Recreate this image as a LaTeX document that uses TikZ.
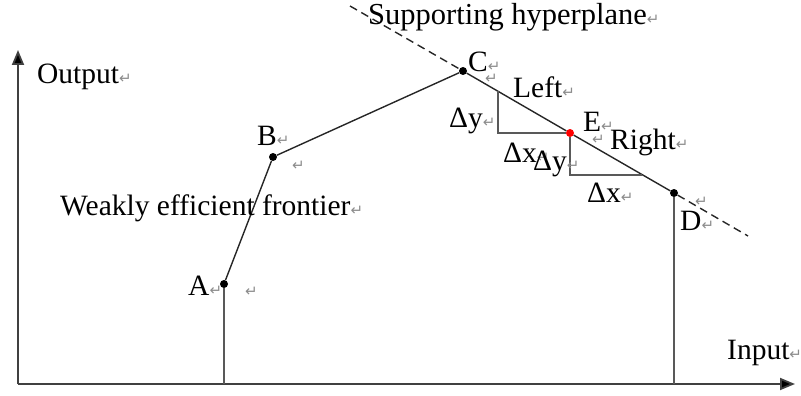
\documentclass[tikz,border=0pt]{standalone}
\usepackage{fontspec}
\setmainfont{Liberation Serif}
\newfontfamily\symfont{DejaVu Sans}
\usetikzlibrary{arrows.meta}
\newcommand\retmark{{\symfont\fontsize{15}{15}\selectfont\color{black!45}↵}}
\tikzset{dot/.style={circle, fill, inner sep=0pt, minimum size=8pt}}
\tikzset{axis/.style={line width=1.8pt, draw=black!75, -{Triangle[length=15pt, width=12pt, fill=black]}}}
\tikzset{edge/.style={line width=1.4pt, draw=black!85}}
\tikzset{drop/.style={line width=1.4pt, draw=black!65}}
\tikzset{lbl/.style={inner sep=0pt, anchor=base west, font=\fontsize{29.5}{32}\selectfont}}
\tikzset{stray/.style={inner sep=0pt, anchor=base west}}

\begin{document}
\begin{tikzpicture}[x=1pt, y=-1pt]
            \useasboundingbox (0,0) rectangle (801,396);
            % axes
            \coordinate (origin) at (18,384);
            \coordinate (xend) at (795,384);
            \coordinate (yend) at (18,50);
            \draw[axis] (origin) -- (xend);
            \draw[axis] (origin) -- (yend);
            % frontier points
            \node[dot] (A) at (224,284) {};
            \node[dot] (B) at (273,157) {};
            \node[dot] (C) at (463,71) {};
            \node[dot, fill=red] (E) at (570,133) {};
            \node[dot] (D) at (674,193) {};
            \coordinate (A0) at (224,384);
            \coordinate (D0) at (674,384);
            \coordinate (H1) at (350,6);
            \coordinate (H2) at (748,236);
            \draw[drop] (A0) -- (A);
            \draw[drop] (D0) -- (D);
            \draw[edge] (A) -- (B) -- (C) -- (E) -- (D);
            \draw[edge, dashed, dash pattern=on 8pt off 5pt] (H1) -- (C);
            \draw[edge, dashed, dash pattern=on 8pt off 5pt] (D) -- (H2);
            % step triangles
            \coordinate (L1) at (498,91);
            \coordinate (L2) at (498,133);
            \coordinate (R1) at (570,175);
            \coordinate (R2) at (642,175);
            \draw[drop] (L1) -- (L2) -- (E);
            \draw[drop] (E) -- (R1) -- (R2);
            % labels
            \node[lbl] (out) at (37,84) {Output\retmark};
            \node[lbl] (inp) at (727,359) {Input\retmark};
            \node[lbl, font=\fontsize{30.5}{33}\selectfont] (hyp) at (368,25) {Supporting hyperplane\retmark};
            \node[lbl] (weak) at (60,215) {Weakly efficient frontier\retmark};
            \node[lbl] (labA) at (188,295) {A\retmark};
            \node[lbl] (labB) at (257,145) {B\retmark};
            \node[lbl] (labC) at (468,72) {C\retmark};
            \node[lbl] (labD) at (680,230) {D\retmark};
            \node[lbl] (labE) at (583,131) {E\retmark};
            \node[lbl] (left) at (513,97) {Left\retmark};
            \node[lbl] (right) at (610,149) {Right\retmark};
            \node[lbl] (dyL) at (449,127) {Δy\retmark};
            \node[lbl] (dxL) at (503,162) {Δx\retmark};
            \node[lbl] (dyR) at (533,170) {Δy\retmark};
            \node[lbl] (dxR) at (587,202) {Δx\retmark};
            \node[stray] (r1) at (292,170) {\retmark};
            \node[stray] (r2) at (245,296) {\retmark};
            \node[stray] (r3) at (485,84) {\retmark};
            \node[stray] (r4) at (592,144) {\retmark};
            \node[stray] (r5) at (695,206) {\retmark};
        \end{tikzpicture}
\end{document}
